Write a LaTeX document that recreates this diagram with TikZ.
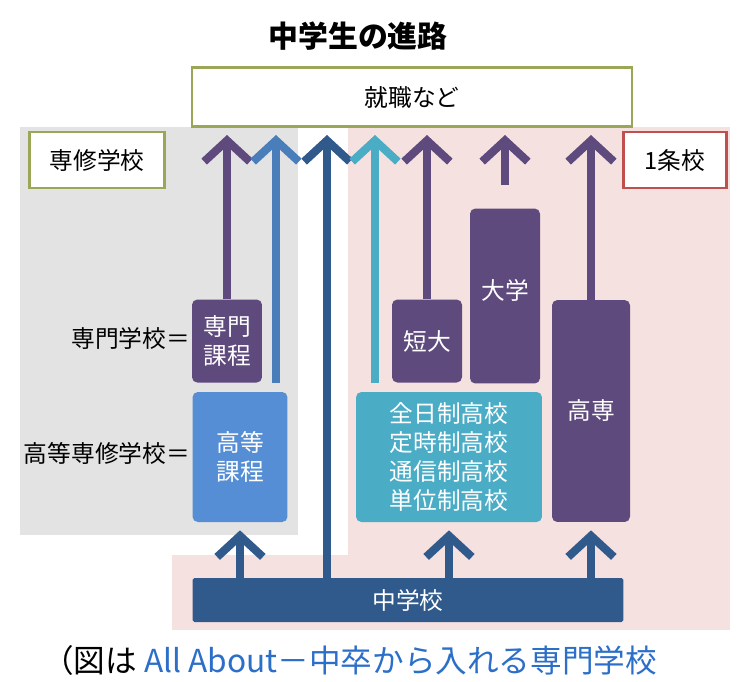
\documentclass[tikz,border=0pt]{standalone}
\usepackage{fontspec}
\setmainfont{Noto Sans CJK JP}
\usetikzlibrary{arrows.meta}
\usetikzlibrary{calc}
\definecolor{kpurple}{HTML}{5F4A7E}
\definecolor{kblue}{HTML}{558ED5}
\definecolor{kdark}{HTML}{30598C}
\definecolor{kteal}{HTML}{4BACC6}
\definecolor{kmid}{HTML}{4A7EBB}
\definecolor{kolive}{HTML}{9BA656}
\definecolor{kred}{HTML}{C0504D}
\definecolor{kgrey}{HTML}{E3E3E3}
\definecolor{kpink}{HTML}{F6E1E1}
\definecolor{klink}{HTML}{2B6FC9}
\newcommand{\txt}{\fontsize{13.5}{16.5}\selectfont}

\begin{document}
\begin{tikzpicture}[x=0.02cm, y=-0.02cm]
	\tikzstyle{box}  = [draw=none, rounded corners=3pt, text=white, font=\txt, align=center, inner sep=0pt]
	\tikzstyle{tag}  = [draw, line width=1.6pt, fill=white, font=\txt, inner sep=0pt]
	\tikzstyle{up}   = [line width=4.6pt, -{Straight Barb[length=12pt, width=26pt]}]
	\useasboundingbox (0,0) rectangle (750,681);
	%% panels
	\fill[white] (0,0) rectangle (750,681);
	\fill[kgrey] (20,127) rectangle (298,535);
	\fill[kpink] (348,127) rectangle (730,630);
	\fill[kpink] (172,555) rectangle (348,630);
	\node[font=\fontsize{17}{20}\selectfont\bfseries] (title) at (358,36) {中学生の進路};
	\node[tag, draw=kolive, minimum width=8.8cm, minimum height=1.18cm] (job) at (412,97) {就職など};
	\node[tag, draw=kolive, minimum width=2.7cm, minimum height=1.12cm] (senshu) at (97,160) {専修学校};
	\node[tag, draw=kred, minimum width=2.06cm, minimum height=1.12cm] (ichijo) at (675,160) {1条校};

	%% boxes
	\node[box, fill=kpurple, minimum width=1.4cm, minimum height=1.66cm] (senmon) at (227,341) {専門\\課程};
	\node[box, fill=kblue, minimum width=1.9cm, minimum height=2.6cm] (koto) at (240,457) {高等\\課程};
	\node[box, fill=kpurple, minimum width=1.4cm, minimum height=1.66cm] (tandai) at (427,341) {短大};
	\node[box, fill=kpurple, minimum width=1.4cm, minimum height=3.5cm] (daigaku) at (505,296) {};
	\node[text=white, font=\txt] (daigakut) at (505,290) {大学};
	\node[box, fill=kpurple, minimum width=1.56cm, minimum height=4.44cm] (kosen) at (591,411) {};
	\node[text=white, font=\txt] (kosent) at (591,410) {高専};
	\node[box, fill=kteal, minimum width=3.72cm, minimum height=2.6cm, font=\fontsize{13.5}{16.5}\selectfont] (koko) at (449,457) {全日制高校\\定時制高校\\通信制高校\\単位制高校};
	\node[box, fill=kdark, rounded corners=1pt, minimum width=8.62cm, minimum height=0.88cm] (chu) at (408,600) {中学校};

	%% labels
	\node[anchor=east, font=\txt, inner sep=1pt] (lsenmon) at (192,338) {専門学校＝};
	\node[anchor=east, font=\txt, inner sep=1pt] (lkoto) at (192,453) {高等専修学校＝};

	%% arrow ends
	\coordinate (t1) at (227,135);
	\coordinate (t2) at (276,135);
	\coordinate (t3) at (327,135);
	\coordinate (t4) at (375,135);
	\coordinate (t5) at (427,135);
	\coordinate (t6) at (505,135);
	\coordinate (t7) at (591,135);
	\coordinate (b2) at (276,383);
	\coordinate (b4) at (375,383);
	\coordinate (c3) at (327,578);

	\draw[up, kpurple] (senmon.north) -- (t1);
	\draw[up, kmid] (b2) -- (t2);
	\draw[up, kdark] (c3) -- (t3);
	\draw[up, kteal] (b4) -- (t4);
	\draw[up, kpurple] (tandai.north) -- (t5);
	\draw[up, kpurple] ($(daigaku.north)+(0,-23)$) -- (t6);
	\draw[up, kpurple] (kosen.north) -- (t7);

	\draw[up, kdark] (chu.north -| koto.south) -- ($(koto.south)+(0,8)$);
	\draw[up, kdark] (chu.north -| koko.south) -- ($(koko.south)+(0,8)$);
	\draw[up, kdark] (chu.north -| kosen.south) -- ($(kosen.south)+(0,8)$);

	%% caption
	\node[anchor=west, font=\fontsize{18}{20}\selectfont] (cap) at (36,660) {（図は \textcolor{klink}{All About－中卒から入れる専門学校}};
\end{tikzpicture}
\end{document}
